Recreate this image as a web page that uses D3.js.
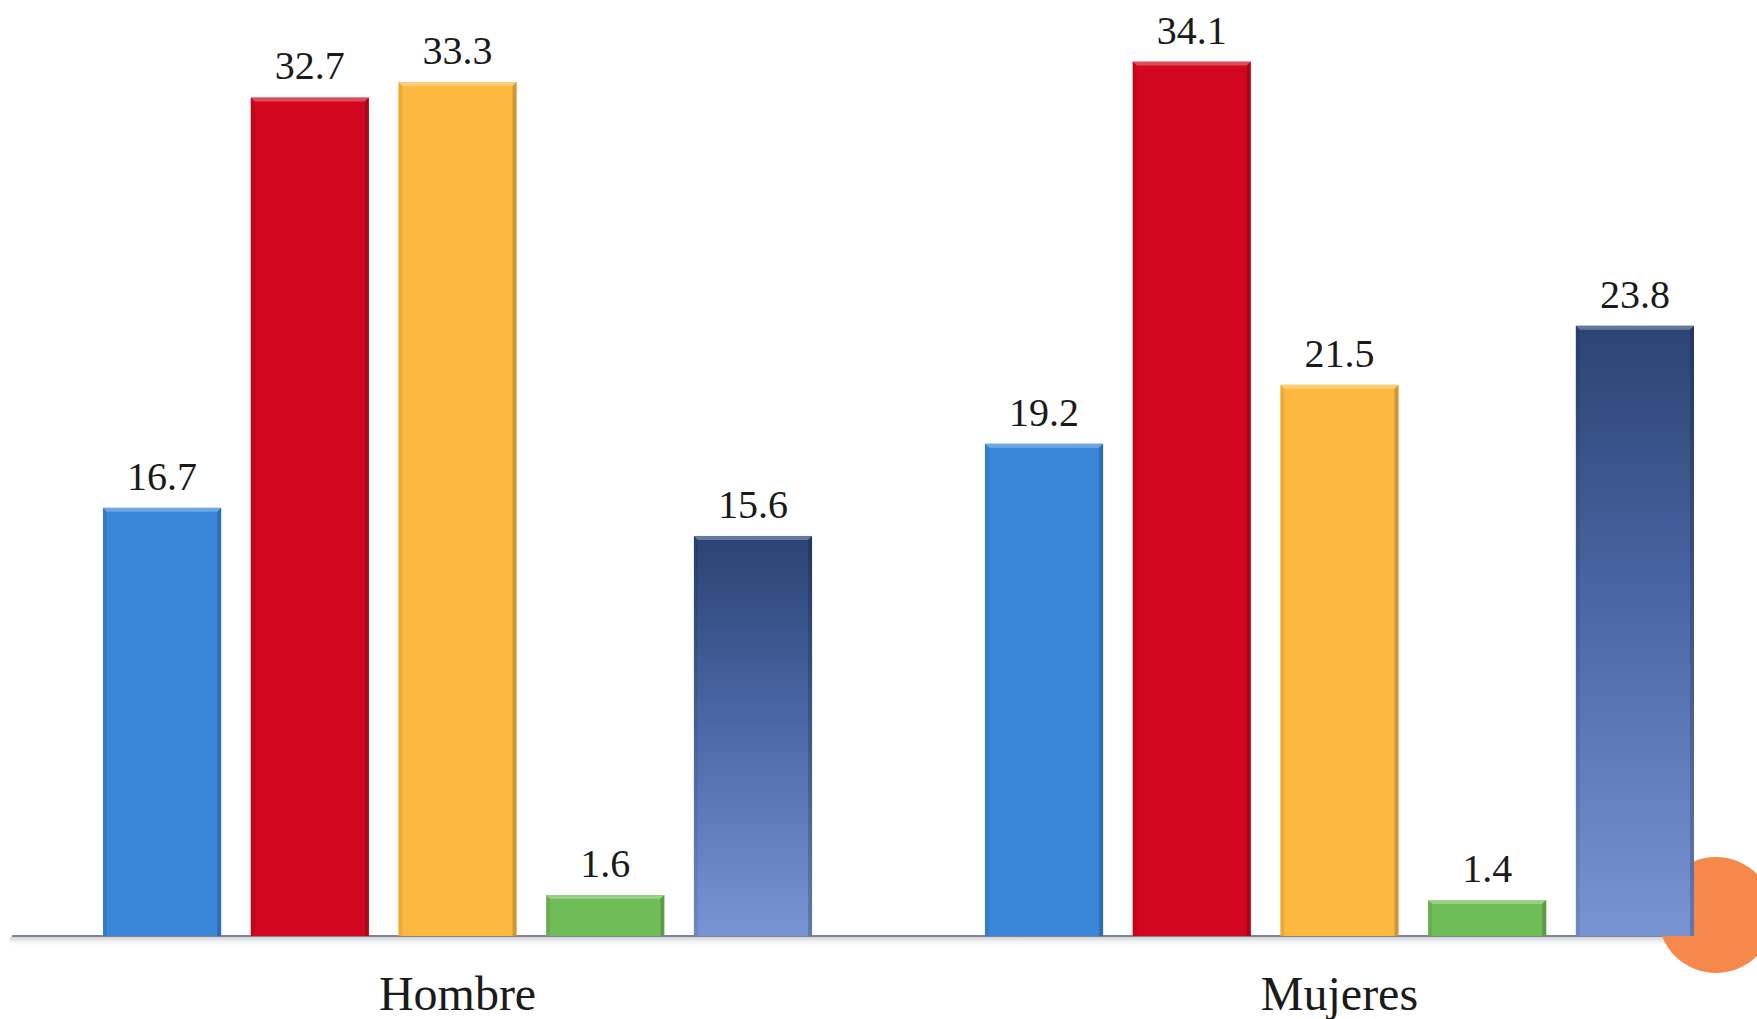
<!DOCTYPE html>
<html><head><meta charset="utf-8">
<script src="https://cdn.jsdelivr.net/npm/d3@7"></script>
<style>html,body{margin:0;padding:0;background:#fff;}svg{display:block;}</style>
</head><body>
<svg id="chart" width="1757" height="1019"></svg>
<script>
// ---- data ----
const categories = ["Hombre", "Mujeres"];
const seriesNames = ["Serie 1", "Serie 2", "Serie 3", "Serie 4", "Serie 5"];
const serie1 = [16.7, 19.2];
const serie2 = [32.7, 34.1];
const serie3 = [33.3, 21.5];
const serie4 = [1.6, 1.4];
const serie5 = [15.6, 23.8];
const valueLabels = [["16.7","32.7","33.3","1.6","15.6"],["19.2","34.1","21.5","1.4","23.8"]];

const seriesValues = [serie1, serie2, serie3, serie4, serie5];
const colors = ["#3a86d8", "#d2071f", "#fdb93f", "#6fbd57", "url(#navyGrad)"];

const svg = d3.select("#chart");
const W = 1757, H = 1019;
const baseY = 936;

const defs = svg.append("defs");
const g1 = defs.append("linearGradient").attr("id","navyGrad").attr("x1",0).attr("y1",0).attr("x2",0).attr("y2",1);
g1.append("stop").attr("offset","0%").attr("stop-color","#2b4474");
g1.append("stop").attr("offset","45%").attr("stop-color","#4a66a4");
g1.append("stop").attr("offset","100%").attr("stop-color","#7894d2");
const sh = defs.append("linearGradient").attr("id","shadowGrad").attr("x1",0).attr("y1",0).attr("x2",0).attr("y2",1);
sh.append("stop").attr("offset","0%").attr("stop-color","#9aa0a8").attr("stop-opacity",0.5);
sh.append("stop").attr("offset","100%").attr("stop-color","#ffffff").attr("stop-opacity",0);

const x0 = d3.scaleBand().domain(categories).range([103, 1694]).paddingInner(0.196).paddingOuter(0);
const x1 = d3.scaleBand().domain(seriesNames).range([0, x0.bandwidth()]).paddingInner(0.2).paddingOuter(0);
const y = d3.scaleLinear().domain([0, 36.5]).range([baseY, 0]);

// baseline with soft shadow
svg.append("rect").attr("x", 10).attr("y", baseY + 1).attr("width", W - 10).attr("height", 10).attr("fill", "url(#shadowGrad)");
const xAxis = d3.axisBottom(x0).tickSize(0).tickPadding(0).tickFormat("");
const axG = svg.append("g").attr("transform", `translate(0,${baseY})`).call(xAxis);
axG.select(".domain").remove();
svg.append("line").attr("x1", 12).attr("x2", W).attr("y1", baseY).attr("y2", baseY)
  .attr("stroke", "#7d8591").attr("stroke-width", 2);

// orange circle (behind bars)
svg.append("circle").attr("cx", 1716).attr("cy", 915).attr("r", 58).attr("fill", "#f5884a");

// bars
const data = [];
categories.forEach((c, ci) => {
  seriesNames.forEach((s, si) => {
    data.push({cat: c, ser: s, si, v: seriesValues[si][ci], label: valueLabels[ci][si]});
  });
});

const groups = svg.append("g");
data.forEach(d => {
  const bx = x0(d.cat) + x1(d.ser);
  const bw = x1.bandwidth();
  const by = y(d.v);
  const bh = baseY - by;
  const g = groups.append("g");
  g.append("rect").attr("x", bx).attr("y", by).attr("width", bw).attr("height", bh).attr("fill", colors[d.si]);
  const e = 4;
  g.append("path").attr("d", `M${bx},${by} L${bx+bw},${by} L${bx+bw-e},${by+e} L${bx+e},${by+e} Z`)
    .attr("fill", "#ffffff").attr("opacity", 0.28);
  g.append("path").attr("d", `M${bx},${by} L${bx+e},${by+e} L${bx+e},${baseY} L${bx},${baseY} Z`)
    .attr("fill", "#000").attr("opacity", 0.08);
  g.append("path").attr("d", `M${bx+bw},${by} L${bx+bw-e},${by+e} L${bx+bw-e},${baseY} L${bx+bw},${baseY} Z`)
    .attr("fill", "#000").attr("opacity", 0.18);
  svg.append("text").attr("x", bx + bw / 2).attr("y", by - 18)
    .attr("text-anchor", "middle").attr("font-family", "Liberation Serif, serif")
    .attr("font-size", 40).attr("fill", "#1a1a1a").text(d.label);
});

// category labels
categories.forEach(c => {
  svg.append("text").attr("x", x0(c) + x0.bandwidth() / 2).attr("y", 1010)
    .attr("text-anchor", "middle").attr("font-family", "Liberation Serif, serif")
    .attr("font-size", 48).attr("fill", "#1a1a1a").text(c);
});
</script>
</body></html>
